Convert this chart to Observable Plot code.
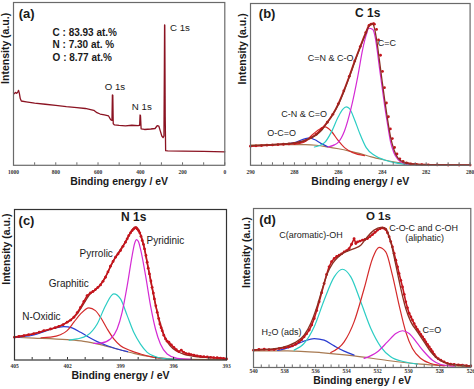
<!DOCTYPE html>
<html><head><meta charset="utf-8">
<script src="https://cdn.jsdelivr.net/npm/d3@7"></script>
<script src="https://cdn.jsdelivr.net/npm/@observablehq/plot@0.6"></script>
<style>
html,body{margin:0;padding:0;background:#fff;}
#wrap{position:relative;width:474px;height:389px;overflow:hidden;background:#fff;}
#wrap > div{position:absolute;}
</style></head>
<body><div id="wrap"></div>
<script>
// ---------- DATA (binding energy eV, intensity a.u. 0-100 of frame) ----------
// (a) survey
const surveyA = [[1000,44.5],[995,44],[990,44.8],[985,44.2],[980,45],[976,46],[972,44],[968,41],[963,39.5],[940,39],[900,38.2],[850,37.5],[800,36.8],[750,36],[700,35.4],[660,34.9],[620,33.8],[605,32.3],[590,31.5],[570,31],[550,30.3],[540,28],[534,27.6],[532,43.2],[530,43],[528,25.5],[522,24.8],[500,24.5],[470,24.2],[440,24.6],[410,24.4],[403,24.6],[401,30.9],[399,30.5],[396,22.4],[380,22],[350,22.3],[330,22.6],[320,24.3],[312,24],[305,21],[298,18],[292,17],[288,18],[286,60],[285,86.3],[284,86],[282,30],[280,9],[270,8.8],[200,8.7],[100,8.5],[0,8.3]];
const surveyElements = ["C", "N", "O"];
const surveyAtPct = ["83.93 at.%", "7.30 at. %", "8.77 at.%"];
const surveyPeaks = ["O 1s", "N 1s", "C 1s"];
const ticksA = [1000, 800, 600, 400, 200, 0];

// (b) C 1s
const c1sData = [[290,11.8],[289.75,12.0],[289.5,12.2],[289.25,12.4],[289,12.6],[288.75,12.8],[288.5,13.0],[288.25,13.2],[288,13.6],[287.75,14.3],[287.5,15.3],[287.25,17.0],[287,19.2],[286.75,22.6],[286.5,26.6],[286.25,31.5],[286,38],[285.75,46],[285.5,55],[285.25,64.5],[285,73.4],[284.75,82],[284.6,86.5],[284.5,87.3],[284.4,87.6],[284.36,87.2],[284.26,84],[284.17,77.5],[284.08,68],[283.99,58],[283.9,48],[283.81,38.5],[283.72,30],[283.63,22.5],[283.54,16.5],[283.44,11],[283.33,7],[283.2,4],[283.05,2.4],[282.9,1.5],[282.7,0.9],[282.45,0.6],[282.2,0.4],[281.9,0.3],[281.5,0.2],[281,0.15],[280.5,0.1],[280,0.1]];
const c1sFit = [[290,12.2],[289,12.8],[288.5,13.2],[288,13.8],[287.5,15.4],[287,18.8],[286.75,21.8],[286.5,26.5],[286.25,31.5],[286,37.5],[285.75,45.5],[285.5,54.5],[285.25,64],[285,73],[284.75,81.5],[284.6,86],[284.45,87.6],[284.35,84.5],[284.25,77],[284.13,65],[284.0,51.5],[283.88,39.5],[283.76,28.5],[283.63,18],[283.47,9.8],[283.29,4.6],[283.0,1.8],[282.5,0.6],[281.5,0.2],[280,0.1]];
const c1sBg = [[290,12.4],[289,12.6],[288,12.8],[287.5,12.8],[287,12.4],[286.5,11.4],[286,10.2],[285.5,8.8],[285,7.2],[284.5,5.2],[284,3.6],[283.5,2.2],[283,1.3],[282.5,0.7],[282,0.4],[281,0.2],[280,0.1]];
const c1sCC = [[286.48,11.3],[286.18,12.6],[286.02,14],[285.72,21.2],[285.42,35.3],[285.11,55.3],[284.89,71.8],[284.73,80.6],[284.61,84.7],[284.43,83.9],[284.32,79],[284.23,71],[284.13,60.5],[284.0,47.5],[283.88,35.7],[283.76,25.4],[283.63,15],[283.47,7.8],[283.29,3.7],[283.0,1.2],[282.5,0.4],[282,0.2]];
const c1sCN = [[287.09,11.3],[286.63,14],[286.33,20.2],[286.02,29.5],[285.8,34.6],[285.64,36.1],[285.49,35],[285.27,28.5],[285.04,20.2],[284.73,10.9],[284.36,6.2],[283.9,3.3],[283.29,1.2],[282.69,0.4]];
const c1sCNO = [[288.0,13],[287.54,14.4],[287.24,18.1],[286.93,21.6],[286.6,23.7],[286.33,21.2],[286.02,15.5],[285.72,10.9],[285.34,7.8],[284.81,6.0]];
const c1sOCO = [[288.45,13],[288.0,14],[287.54,16.3],[287.31,16.9],[287.09,15.9],[286.78,13.4],[286.48,11.5]];
const c1sLabels = ["C=C", "C=N & C-O", "C-N & C=O", "O-C=O"];
const ticksB = [290, 288, 286, 284, 282, 280];

// (c) N 1s
const n1sData = [[405,15.1],[404.75,15.6],[404.47,16.2],[404.2,16.8],[403.91,17.5],[403.6,18.5],[403.34,19.5],[402.96,20.6],[402.7,21.5],[402.49,22.4],[402.25,23.5],[402.02,25.1],[401.82,26.5],[401.64,28.4],[401.45,31.5],[401.26,35],[401.07,39],[400.89,42.8],[400.7,44.6],[400.56,45.5],[400.42,46.8],[400.28,48.2],[400.13,49.9],[399.99,52.3],[399.85,55],[399.71,58.5],[399.57,62.3],[399.42,65.5],[399.28,68.3],[399.14,70.5],[399,72.7],[398.86,75.5],[398.72,78.3],[398.62,80.5],[398.53,82.7],[398.43,84.5],[398.34,86],[398.26,87],[398.19,87.8],[398.12,87.9],[398.06,87.1],[397.98,86],[397.91,84.5],[397.84,82.2],[397.77,79.4],[397.7,76.8],[397.64,73.8],[397.56,69.5],[397.49,65],[397.43,61],[397.36,57.2],[397.28,52.5],[397.21,48.3],[397.14,44.5],[397.08,40.6],[397,36],[396.92,31.7],[396.84,27.5],[396.77,23.9],[396.7,21.5],[396.64,19.5],[396.55,16.5],[396.45,14],[396.36,12.5],[396.26,11.8],[396.12,10],[395.98,8.4],[395.84,6.8],[395.7,5.5],[395.56,6.6],[395.42,5.1],[395.28,4.3],[395.13,4],[395,3.6],[394.85,3.3],[394.66,2.8],[394.47,2.4],[394.28,2.2],[394.09,2],[393.9,1.8],[393.72,1.6],[393.53,1.5],[393.34,1.3],[393.17,1.0],[393,0.7]];
const n1sFit = [[405,15.3],[404,17.2],[403,20.3],[402.5,22.2],[402,25.3],[401.5,30],[401,39],[400.75,43.5],[400.5,46],[400.25,48.5],[400,52.5],[399.75,57.5],[399.5,63.5],[399.25,69],[399,73.5],[398.75,78],[398.5,83.5],[398.3,87],[398.15,88.2],[398,87],[397.85,83],[397.7,77],[397.5,65],[397.3,53],[397.1,41],[396.9,31],[396.7,22.5],[396.5,15.5],[396.2,9.5],[395.8,5.8],[395.4,3.8],[395,2.8],[394.5,2],[394,1.6],[393,1]];
const n1sBg = [[405,15.1],[403.91,14.6],[402.02,13.5],[401.08,12.4],[400.13,10.2],[399.19,7.3],[398.25,4.4],[397.3,2.2],[396.36,0.9],[395.23,0.4],[393,0.2]];
const n1sOxidic = [[405,15.1],[404.66,15.4],[403.91,16.6],[403.34,18.8],[402.77,21.1],[402.21,22.2],[401.74,21.3],[401.26,18.4],[400.79,15.1],[400.32,12.2],[399.75,9.5],[399.19,7.3],[398.6,5.6]];
const n1sGraphitic = [[403.5,14.8],[402.96,15.2],[402.4,16.8],[402.02,19.5],[401.64,25.1],[401.26,30.6],[400.79,34.6],[400.42,32.8],[400.13,28.4],[399.75,20.6],[399.38,14],[399,9.5],[398.43,6.2],[397.87,4],[397.11,1.8],[396.4,0.9]];
const n1sPyrrolic = [[401.9,13.2],[401.45,14],[400.89,16.2],[400.32,23.9],[399.85,36.1],[399.38,43.9],[399,40.6],[398.62,29.5],[398.25,18.4],[397.87,10.6],[397.49,5.1],[396.92,1.8],[396.36,0.7],[395.5,0.4]];
const n1sPyridinic = [[400.5,11],[400.13,11.2],[399.57,14],[399.19,20.6],[398.91,31.7],[398.62,49.4],[398.34,69.4],[398.2,77.5],[398.09,80],[397.98,78.5],[397.87,73.8],[397.58,56.1],[397.3,36.1],[397.02,20.6],[396.74,10.6],[396.36,4],[395.79,1.1],[395,0.4]];
const n1sLabels = ["Pyridinic", "Pyrrolic", "Graphitic", "N-Oxidic"];
const ticksC = [405, 402, 399, 396, 393];

// (d) O 1s
const o1sData = [[540,10.9],[539.65,11.3],[539.31,11.5],[539,11.2],[538.67,11.3],[538.35,11.9],[538.02,12.4],[537.75,12.9],[537.49,13.6],[537.28,14.6],[537.06,16.1],[536.9,17.5],[536.74,19.3],[536.58,21.2],[536.41,23.5],[536.25,26.8],[536.09,30.8],[535.93,35.8],[535.77,41.3],[535.61,47],[535.45,52.8],[535.29,58.5],[535.13,63.3],[534.97,66.5],[534.8,68.6],[534.64,69.8],[534.48,70.6],[534.32,71.5],[534.16,72.7],[534,73.5],[533.84,74.8],[533.68,77.5],[533.52,81.1],[533.41,78],[533.3,79],[533.14,79.5],[532.98,80.1],[532.82,80.5],[532.66,81.1],[532.5,82.3],[532.33,83.6],[532.17,85],[532.01,86.4],[531.85,87.3],[531.69,87.8],[531.58,87.5],[531.48,86.8],[531.37,84.8],[531.26,82.2],[531.16,79.2],[531.05,75.9],[530.94,71.8],[530.83,67.5],[530.72,63.3],[530.62,59.1],[530.51,54.8],[530.4,50.7],[530.29,46],[530.19,41.3],[530.08,37.5],[529.97,34],[529.86,31.8],[529.76,29.8],[529.65,27.6],[529.54,25.6],[529.44,24],[529.33,22.4],[529.22,20.8],[529.11,19.3],[529,17.6],[528.9,16.1],[528.79,14.5],[528.68,13],[528.57,11.4],[528.47,9.9],[528.36,8.3],[528.25,6.7],[528.1,5.5],[527.93,4.6],[527.72,3.5],[527.5,2.5],[527.3,2.1],[527.07,1.9],[526.8,1.7],[526.54,1.5],[526.27,1.2],[526,1]];
const o1sFit = [[540,10.9],[538.5,12],[537.81,13.6],[537.3,15.8],[536.74,20.3],[536.3,28],[535.88,39.2],[535.55,50],[535.24,59.1],[534.9,65.5],[534.59,69],[534.25,71.8],[533.94,73.2],[533.52,74.8],[533.09,76.9],[532.66,82.2],[532.23,86.4],[531.8,88.1],[531.48,87.4],[531.16,79],[530.83,64.4],[530.51,49.7],[530.19,37.1],[529.86,28.7],[529.44,22.4],[529.01,16.1],[528.58,9.9],[528.15,5.7],[527.5,2.5],[526.8,1.5],[526,1]];
const o1sBg = [[540,10.5],[537.81,10.5],[535.66,9.4],[533.52,7.3],[531.37,4.4],[529.22,2.1],[526,0.6]];
const o1sH2O = [[538.45,10.7],[537.59,13],[536.74,16.6],[536.09,18.2],[535.45,17.2],[534.8,13.6],[534.16,10.3],[533.52,7.8]];
const o1sArOH = [[537.38,10.9],[536.74,15.1],[536.09,25.6],[535.45,42.3],[534.8,57],[534.27,61.8],[533.73,57],[533.09,41.3],[532.44,24.5],[531.8,13],[531.16,6.7],[530.29,3.6],[529.44,2.1]];
const o1sCOC = [[535.02,9.4],[534.16,16.1],[533.52,28.7],[532.87,49.7],[532.33,68.6],[531.91,75.5],[531.48,72.7],[531.05,58.1],[530.62,39.2],[530.19,22.4],[529.76,11.9],[529.22,5.7],[528.58,2.5],[527.72,1]];
const o1sCO = [[532.87,5.7],[532.01,9.9],[531.37,16.1],[530.83,21.4],[530.4,23.1],[529.97,21.4],[529.44,15.1],[529.01,9.9],[528.47,4.6],[527.93,1.9],[527.07,0.8]];
const o1sLabels = ["C(aromatic)-OH", "C-O-C and C-OH", "(aliphatic)", "H\u2082O (ads)", "C=O"];
const ticksD = [540, 538, 536, 534, 532, 530, 528, 526];

const xLabel = "Binding energy / eV";
const yLabel = "Intensity (a.u.)";

// ---------- STYLE ----------
const COL = {dot:"#c4141c", fit:"#8c2f22", bg:"#a87a52", mag:"#d42ad4", cyan:"#2ccdc4", red:"#d42a2a", blue:"#2a3cd0", survey:"#8b1322", text:"#1a1a1a"};
const SANS = "Liberation Sans, Arial, Helvetica, sans-serif";
const SERIF = "Liberation Serif, Times New Roman, serif";
const X = d => d[0], Y = d => d[1];
const wrap = document.getElementById("wrap");

function lab(t, x, y, o = {}) {
  return Plot.text([t], {x: () => x, y: () => y, text: d => d, fontFamily: SANS, fontSize: 9, fill: COL.text, textAnchor: "start", ...o});
}
function comp(arr, color, w = 1.2) {
  return Plot.line(arr, {x: X, y: Y, stroke: color, strokeWidth: w, curve: "monotone-x"});
}

function panel({frame, xDomain, minor, major, tickDy, xLabelDy, yLabelDx, frameStroke, marks}) {
  const [L, T, R, B] = frame;
  const ML = 16, MT = 3, MR = 4, MB = 28;
  const w = R - L, h = B - T;
  const W = w + ML + MR, H = h + MT + MB;
  const svg = Plot.plot({
    width: W, height: H, marginLeft: ML, marginRight: MR, marginTop: MT, marginBottom: MB,
    x: {domain: xDomain, axis: null},
    y: {domain: [0, 100], axis: null},
    style: {background: "transparent", overflow: "visible", fontFamily: SANS},
    marks: [
      ...marks,
      Plot.ruleX(minor, {x: d => d, insetTop: h - 2.5, stroke: frameStroke, strokeWidth: 1}),
      Plot.text(major, {x: d => d, frameAnchor: "bottom", dy: tickDy, text: d => String(d), fontFamily: SERIF, fontWeight: "bold", fontSize: 5.5, fill: "#333"}),
      Plot.text([xLabel], {frameAnchor: "bottom", dy: xLabelDy, text: d => d, fontFamily: SANS, fontWeight: "bold", fontSize: 10.5, fill: COL.text}),
      Plot.text([yLabel], {frameAnchor: "left", dx: yLabelDx, rotate: -90, text: d => d, fontFamily: SANS, fontWeight: "bold", fontSize: 10.5, fill: COL.text}),
      Plot.frame({stroke: frameStroke, strokeWidth: 1.2})
    ]
  });
  const div = document.createElement("div");
  div.style.left = (L - ML) + "px";
  div.style.top = (T - MT) + "px";
  div.style.width = W + "px";
  div.appendChild(svg);
  wrap.appendChild(div);
}

// (a)
panel({
  frame: [12.7, 1.7, 224, 164.5], xDomain: [1000, 0],
  minor: d3.range(0, 1001, 100), major: ticksA, tickDy: 8.5, xLabelDy: 19.5, yLabelDx: -7.5, frameStroke: "#6a6a6a",
  marks: [
    Plot.line(surveyA, {x: X, y: Y, stroke: COL.survey, strokeWidth: 1.3}),
    lab("(a)", 975, 92.9, {fontWeight: "bold", fontSize: 13}),
    ...surveyElements.map((e, i) => lab(`${e} : ${surveyAtPct[i]}`, 815, [81.2, 73.8, 66.2][i], {fontWeight: "bold", fontSize: 10})),
    lab(surveyPeaks[0], 520, 48.2, {textAnchor: "middle", fontSize: 9.7}),
    lab(surveyPeaks[1], 393, 35.8, {textAnchor: "middle", fontSize: 9.7}),
    lab(surveyPeaks[2], 212, 84.4, {textAnchor: "middle", fontSize: 9.7})
  ]
});

// (b)
panel({
  frame: [249.7, 2.7, 469.3, 164.5], xDomain: [290, 280],
  minor: d3.range(280, 290.01, 0.5), major: ticksB, tickDy: 8.5, xLabelDy: 19.5, yLabelDx: -7.5, frameStroke: "#6a6a6a",
  marks: [
    comp(c1sBg, COL.bg),
    comp(c1sOCO, COL.blue),
    comp(c1sCNO, COL.red),
    comp(c1sCN, COL.cyan),
    comp(c1sCC, COL.mag),
    Plot.line(c1sData, {x: X, y: Y, stroke: COL.dot, strokeWidth: 1.8, filter: d => d[0] >= 284.35, curve: "monotone-x"}),
    Plot.line(c1sData, {x: X, y: Y, stroke: COL.dot, strokeWidth: 1.8, filter: d => d[0] <= 283.0, curve: "monotone-x"}),
    Plot.dot(c1sData, {x: X, y: Y, r: 1.4, fill: COL.dot}),
    comp(c1sFit, COL.fit, 1.3),
    lab("(b)", 289.62, 93.4, {fontWeight: "bold", fontSize: 13}),
    lab("C 1s", 284.66, 93.8, {fontWeight: "bold", fontSize: 12, textAnchor: "middle"}),
    lab(c1sLabels[0], 284.2, 75.5),
    lab(c1sLabels[1], 287.39, 66.2),
    lab(c1sLabels[2], 288.6, 31.9),
    lab(c1sLabels[3], 289.24, 19.6)
  ]
});

// (c)
panel({
  frame: [14, 209, 226, 359.5], xDomain: [405, 393],
  minor: d3.range(393, 405.01, 1), major: ticksC, tickDy: 8, xLabelDy: 19, yLabelDx: -7.7, frameStroke: "#333",
  marks: [
    comp(n1sBg, COL.bg),
    comp(n1sOxidic, COL.blue),
    comp(n1sGraphitic, COL.red),
    comp(n1sPyrrolic, COL.cyan),
    comp(n1sPyridinic, COL.mag),
    comp(n1sFit, COL.fit, 1.3),
    Plot.line(n1sData, {x: X, y: Y, stroke: COL.dot, strokeWidth: 1.6}),
    Plot.dot(n1sData, {x: X, y: Y, r: 1.4, fill: COL.dot}),
    lab("(c)", 404.77, 92.7, {fontWeight: "bold", fontSize: 13}),
    lab("N 1s", 398.25, 94.9, {fontWeight: "bold", fontSize: 12, textAnchor: "middle"}),
    lab(n1sLabels[0], 397.53, 79.4, {fontSize: 10}),
    lab(n1sLabels[1], 401.32, 70.5, {fontSize: 10}),
    lab(n1sLabels[2], 403.06, 50.6, {fontSize: 10}),
    lab(n1sLabels[3], 404.56, 28.8, {fontSize: 10})
  ]
});

// (d)
panel({
  frame: [253, 208.3, 470.3, 367.3], xDomain: [540, 526],
  minor: d3.range(526, 540.01, 0.5), major: ticksD, tickDy: 6, xLabelDy: 16.5, yLabelDx: -7.3, frameStroke: "#6a6a6a",
  marks: [
    comp(o1sBg, COL.bg),
    comp(o1sH2O, COL.blue),
    comp(o1sArOH, COL.cyan),
    comp(o1sCOC, COL.red),
    comp(o1sCO, COL.mag),
    Plot.line(o1sData, {x: X, y: Y, stroke: COL.dot, strokeWidth: 1.6}),
    Plot.dot(o1sData, {x: X, y: Y, r: 1.4, fill: COL.dot}),
    comp(o1sFit, COL.fit, 1.3),
    lab("(d)", 539.63, 92.6, {fontWeight: "bold", fontSize: 13}),
    lab("O 1s", 531.95, 95.2, {fontWeight: "bold", fontSize: 11.5, textAnchor: "middle"}),
    lab(o1sLabels[0], 538.34, 83.2),
    lab(o1sLabels[1], 531.26, 87.6),
    lab(o1sLabels[2], 530.23, 81.1),
    lab(o1sLabels[3], 539.48, 22.2),
    lab(o1sLabels[4], 529.11, 23.5)
  ]
});
</script>
</body></html>
